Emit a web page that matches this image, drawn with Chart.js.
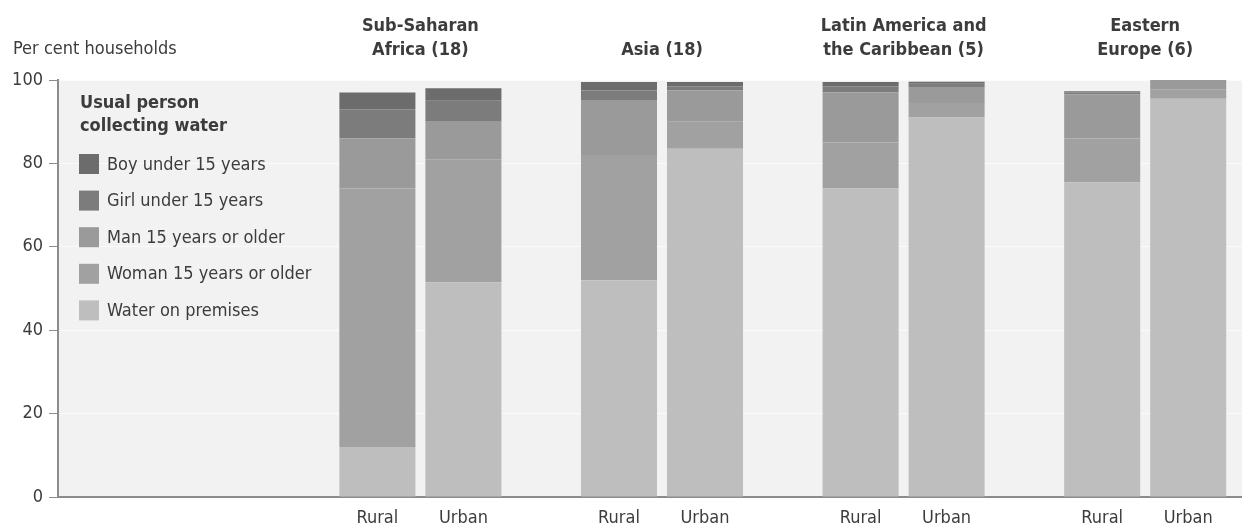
<!DOCTYPE html>
<html>
<head>
<meta charset="utf-8">
<script src="https://cdn.jsdelivr.net/npm/chart.js@4.4.0/dist/chart.umd.min.js"></script>
<style>
  html, body { margin: 0; padding: 0; background: #fff; overflow: hidden; }
  #wrap { width: 1266px; height: 529px; }
</style>
</head>
<body>
<div id="wrap"><canvas id="waterChart" width="1266" height="529"></canvas></div>
<script>
// regions (first slot left empty for the legend)
const regions = ['', ['Sub-Saharan', 'Africa (18)'], 'Asia (18)', ['Latin America and', 'the Caribbean (5)'], ['Eastern', 'Europe (6)']];
const areas = ['Rural', 'Urban'];
const yTicks = [0, 20, 40, 60, 80, 100];

// per cent of households, order: SSA, Asia, LAC, Eastern Europe
const waterRural = [12, 52, 74, 75.5];
const waterUrban = [51.5, 83.5, 91, 95.5];
const womanRural = [62, 30, 11, 10.5];
const womanUrban = [29.5, 6.5, 3.5, 2.3];
const manRural = [12, 13, 12, 10.5];
const manUrban = [9, 7.5, 3.8, 2];
const girlRural = [7, 2.5, 1.5, 0.5];
const girlUrban = [5, 1, 0.8, 0.2];
const boyRural = [4, 2, 1, 0.3];
const boyUrban = [3, 1, 0.5, 0];

const FONT = "'Liberation Sans Narrow', 'DejaVu Sans Condensed', sans-serif";
const TEXT = '#3c3c3c';
const AXIS = '#8c8c8c';

// stacked bottom to top
const series = [
  { name: 'Water on premises', color: '#bebebe', rural: waterRural, urban: waterUrban },
  { name: 'Woman 15 years or older', color: '#a1a1a1', rural: womanRural, urban: womanUrban },
  { name: 'Man 15 years or older', color: '#9a9a9a', rural: manRural, urban: manUrban },
  { name: 'Girl under 15 years', color: '#7c7c7c', rural: girlRural, urban: girlUrban },
  { name: 'Boy under 15 years', color: '#6c6c6c', rural: boyRural, urban: boyUrban }
];

const datasets = [];
series.forEach(s => {
  areas.forEach(area => {
    const vals = area === 'Rural' ? s.rural : s.urban;
    datasets.push({
      label: s.name,
      data: [null].concat(vals),
      backgroundColor: s.color,
      stack: area,
      categoryPercentage: 0.712,
      barPercentage: 0.884
    });
  });
});

// grey plot background
const plotBg = {
  id: 'plotBg',
  beforeDraw(chart) {
    const { ctx, chartArea: a } = chart;
    ctx.save();
    ctx.fillStyle = '#f2f2f2';
    ctx.fillRect(a.left, a.top, a.right - a.left, a.bottom - a.top);
    ctx.restore();
  }
};

// axis title, Rural/Urban labels and the legend box
const extras = {
  id: 'extras',
  afterDraw(chart) {
    const { ctx, chartArea: a } = chart;
    ctx.save();
    ctx.fillStyle = TEXT;
    ctx.textBaseline = 'middle';
    ctx.font = '18px ' + FONT;
    ctx.textAlign = 'left';
    ctx.fillText('Per cent households', 13, 49);

    // Rural / Urban under each bar
    ctx.textAlign = 'center';
    [0, 1].forEach(di => {
      chart.getDatasetMeta(di).data.forEach((bar, i) => {
        if (i === 0) return;
        ctx.fillText(areas[di], bar.x, a.bottom + 21);
      });
    });

    // legend
    ctx.textAlign = 'left';
    ctx.font = 'bold 18px ' + FONT;
    ctx.fillText('Usual person', 80, 103);
    ctx.fillText('collecting water', 80, 126);
    ctx.font = '18px ' + FONT;
    series.slice().reverse().forEach((s, i) => {
      const cy = 164 + i * 36.6;
      ctx.fillStyle = s.color;
      ctx.fillRect(79, cy - 10, 20, 20);
      ctx.fillStyle = TEXT;
      ctx.fillText(s.name, 107, cy + 1);
    });
    ctx.restore();
  }
};

new Chart(document.getElementById('waterChart'), {
  type: 'bar',
  data: { labels: regions, datasets: datasets },
  options: {
    responsive: false,
    animation: false,
    layout: { padding: 0 },
    plugins: {
      legend: { display: false },
      tooltip: { enabled: false }
    },
    scales: {
      x: {
        type: 'category',
        position: 'bottom',
        stacked: true,
        offset: true,
        grid: { display: false, drawTicks: false },
        border: { display: true, color: AXIS, width: 2 },
        ticks: { display: false },
        afterFit: s => { s.height = 32; }
      },
      xTop: {
        type: 'category',
        position: 'top',
        labels: regions,
        offset: true,
        grid: { display: false, drawTicks: false },
        border: { display: false },
        ticks: {
          color: TEXT,
          font: { family: FONT, size: 18, weight: 'bold', lineHeight: 1.33 },
          padding: 18,
          maxRotation: 0,
          autoSkip: false
        },
        afterFit: s => { s.height = 80; }
      },
      y: {
        stacked: true,
        min: 0,
        max: 100,
        afterBuildTicks: s => { s.ticks = yTicks.map(v => ({ value: v })); },
        grid: {
          color: 'rgba(255,255,255,0.7)',
          tickColor: AXIS,
          tickLength: 9,
          lineWidth: 1
        },
        border: { color: AXIS, width: 2 },
        ticks: { color: TEXT, font: { family: FONT, size: 18 }, padding: 6 },
        afterFit: s => { s.width = 58; }
      }
    }
  },
  plugins: [plotBg, extras]
});
</script>
</body>
</html>
